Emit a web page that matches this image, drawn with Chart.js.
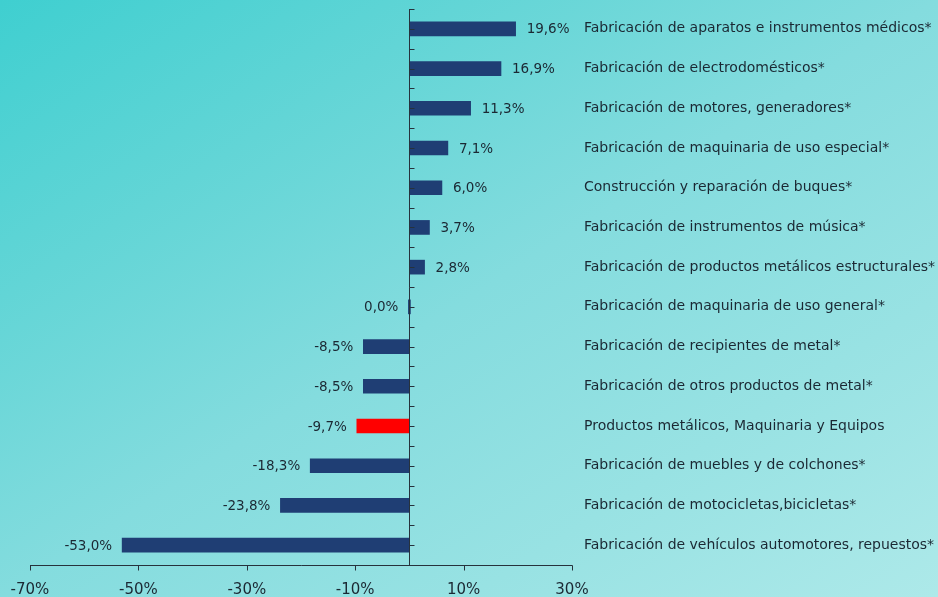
<!DOCTYPE html>
<html><head><meta charset="utf-8">
<script src="https://cdn.jsdelivr.net/npm/chart.js@4.4.1/dist/chart.umd.min.js"></script>
<style>
html,body{margin:0;padding:0;}
body{width:938px;height:597px;background:linear-gradient(to bottom right,#3fcfd0 0%,#62d5d6 25%,#84dcde 50%,#98e2e3 75%,#ade9e9 100%);}
#wrap{position:relative;width:938px;height:597px;}
</style></head>
<body><div id="wrap"><canvas id="c" width="938" height="597"></canvas></div>
<script>
const categories = [
  "Fabricación de aparatos e instrumentos médicos*",
  "Fabricación de electrodomésticos*",
  "Fabricación de motores, generadores*",
  "Fabricación de maquinaria de uso especial*",
  "Construcción y reparación de buques*",
  "Fabricación de instrumentos de música*",
  "Fabricación de productos metálicos estructurales*",
  "Fabricación de maquinaria de uso general*",
  "Fabricación de recipientes de metal*",
  "Fabricación de otros productos de metal*",
  "Productos metálicos, Maquinaria y Equipos",
  "Fabricación de muebles y de colchones*",
  "Fabricación de motocicletas,bicicletas*",
  "Fabricación de vehículos automotores, repuestos*"
];
const values = [19.6, 16.9, 11.3, 7.1, 6.0, 3.7, 2.8, 0.0, -8.5, -8.5, -9.7, -18.3, -23.8, -53.0];
const highlightIndex = 10;
const xTicks = [-70, -50, -30, -10, 10, 30];

const NAVY = '#1f3e74', RED = '#ff0000', TXT = '#1b2833';
const FONT = '"DejaVu Sans", Verdana, sans-serif';
const fmt = v => v.toFixed(1).replace('.', ',') + '%';

const axesPlugin = {
  id: 'axesPlugin',
  afterDatasetsDraw(chart) {
    const ctx = chart.ctx, xs = chart.scales.x, ys = chart.scales.y, a = chart.chartArea;
    const x0 = Math.round(xs.getPixelForValue(0)) + 0.5;
    const yb = Math.round(a.bottom) + 0.5;
    ctx.save();
    ctx.strokeStyle = '#26323c';
    ctx.lineWidth = 1;
    ctx.beginPath(); ctx.moveTo(x0, a.top); ctx.lineTo(x0, yb); ctx.stroke();
    const n = categories.length;
    const half = (ys.getPixelForValue(1) - ys.getPixelForValue(0)) / 2;
    for (let i = 0; i < n; i++) {
      const yc = ys.getPixelForValue(i);
      [yc - half, yc].forEach(y => {
        const yy = Math.round(y) + 0.5;
        ctx.beginPath(); ctx.moveTo(x0, yy); ctx.lineTo(x0 + 5, yy); ctx.stroke();
      });
    }
    const xl = xs.getPixelForValue(xTicks[0]), xr = xs.getPixelForValue(xTicks[xTicks.length - 1]);
    ctx.beginPath(); ctx.moveTo(xl, yb); ctx.lineTo(xr + 0.5, yb); ctx.stroke();
    xTicks.forEach(t => {
      const xx = Math.round(xs.getPixelForValue(t)) + 0.5;
      ctx.beginPath(); ctx.moveTo(xx, yb); ctx.lineTo(xx, yb + 5); ctx.stroke();
    });
    ctx.fillStyle = TXT;
    ctx.font = '13.5px ' + FONT;
    ctx.textBaseline = 'middle';
    const meta = chart.getDatasetMeta(0);
    meta.data.forEach((bar, i) => {
      const v = values[i];
      if (v > 0) { ctx.textAlign = 'left'; ctx.fillText(fmt(v), bar.x + 11, bar.y + 1); }
      else { ctx.textAlign = 'right'; ctx.fillText(fmt(v), Math.min(bar.x, bar.base) - 10, bar.y + 1); }
    });
    ctx.restore();
  }
};

new Chart(document.getElementById('c'), {
  type: 'bar',
  data: {
    labels: categories,
    datasets: [{
      data: values,
      backgroundColor: values.map((v, i) => i === highlightIndex ? RED : NAVY),
      borderWidth: 0,
      barThickness: 14,
      minBarLength: 2
    }]
  },
  options: {
    indexAxis: 'y',
    responsive: false,
    animation: false,
    layout: { padding: { left: 30, top: 9, right: 0, bottom: 0 } },
    plugins: { legend: { display: false }, tooltip: { enabled: false } },
    scales: {
      x: {
        type: 'linear', min: -70, max: 30,
        afterBuildTicks: s => { s.ticks = xTicks.map(v => ({ value: v })); },
        afterFit: s => { s.height = 32; },
        grid: { display: false }, border: { display: false },
        ticks: { color: TXT, font: { family: FONT, size: 15 }, padding: 8, callback: v => v + '%' }
      },
      y: {
        position: 'right',
        afterFit: s => { s.width = 366; s.paddingTop = 0; s.paddingBottom = 0; },
        grid: { display: false }, border: { display: false },
        ticks: { color: TXT, font: { family: FONT, size: 14 }, padding: 4 }
      }
    }
  },
  plugins: [axesPlugin]
});
</script></body></html>
